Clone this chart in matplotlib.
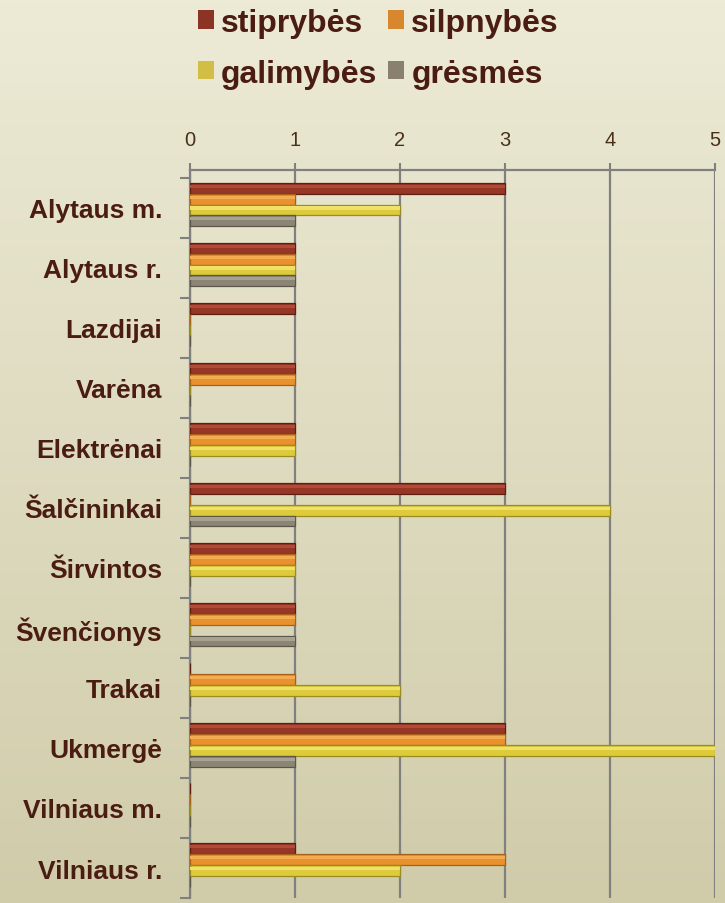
import numpy as np
import matplotlib
matplotlib.use("Agg")
import matplotlib.pyplot as plt
from matplotlib.patches import Patch

plt.rcParams['font.family'] = ['Liberation Sans', 'DejaVu Sans']

categories = ["Alytaus m.", "Alytaus r.", "Lazdijai", "Varėna", "Elektrėnai",
              "Šalčininkai", "Širvintos", "Švenčionys", "Trakai", "Ukmergė",
              "Vilniaus m.", "Vilniaus r."]
series = ["stiprybės", "silpnybės", "galimybės", "grėsmės"]
stiprybes = [3, 1, 1, 1, 1, 3, 1, 1, 0, 3, 0, 1]
silpnybes = [1, 1, 0, 1, 1, 0, 1, 1, 1, 3, 0, 3]
galimybes = [2, 1, 0, 0, 1, 4, 1, 0, 2, 5, 0, 2]
gresmes = [1, 1, 0, 0, 0, 1, 0, 1, 0, 1, 0, 0]

values = [stiprybes, silpnybes, galimybes, gresmes]
fills = ["#963626", "#E8912E", "#DDCB3C", "#8C8576"]
edges = ["#5E1E12", "#A8601A", "#9A8C20", "#5C5648"]
highlights = ["#B24A36", "#F4AC50", "#EEE068", "#A8A292"]
legend_colors = ["#8B3324", "#D8872E", "#D2BE44", "#8A8070"]
text_color = "#4A1C12"

fig = plt.figure(figsize=(7.25, 9.04), dpi=100)

# background gradient
bg = fig.add_axes([0, 0, 1, 1], zorder=-10)
top = np.array([237, 234, 214]) / 255
bot = np.array([208, 204, 170]) / 255
t = np.linspace(0, 1, 256)[:, None]
grad = top[None, :] * (1 - t) + bot[None, :] * t
bg.imshow(grad[:, None, :], aspect="auto", extent=[0, 1, 0, 1])
bg.axis("off")

ax = fig.add_axes([0.262, 0.0055, 0.724, 0.805])
ax.patch.set_alpha(0)

y = np.arange(len(categories))
h = 0.18
offsets = [-0.32, -0.14, 0.04, 0.22]
for vals, off, fc, ec, hc in zip(values, offsets, fills, edges, highlights):
    ax.barh(y + off, vals, height=h, color=fc, edgecolor=ec, linewidth=0.9, zorder=3)
    ax.barh(y + off - h * 0.18, vals, height=h * 0.3, color=hc,
            linewidth=0, zorder=4)

ax.set_xlim(0, 5)
ax.set_ylim(11.5, -0.62)
ax.xaxis.tick_top()
ax.set_xticks(range(6))
ax.tick_params(axis="x", length=5, width=1.5, color="#808080", pad=10,
               labelsize=14.5, labelcolor="#4A3018")
ax.grid(axis="x", color="#808080", linewidth=1.6, zorder=1)

ax.set_yticks(y)
ax.set_yticklabels(categories, fontsize=19, fontweight="bold", color=text_color)
ax.tick_params(axis="y", length=0, pad=20)
ax.set_yticks(np.arange(-0.5, 12, 1), minor=True)
ax.tick_params(axis="y", which="minor", length=7, width=1.5, color="#808080")

for side in ["right", "bottom"]:
    ax.spines[side].set_visible(False)
for side in ["left", "top"]:
    ax.spines[side].set_color("#808080")
    ax.spines[side].set_linewidth(1.6)

handles = [Patch(facecolor=c, edgecolor="none") for c in legend_colors]
order = [0, 2, 1, 3]
leg = fig.legend([handles[i] for i in order], [series[i] for i in order],
                 loc="upper center", bbox_to_anchor=(0.522, 1.022), ncol=2,
                 frameon=False, handlelength=0.5, handleheight=0.5,
                 handletextpad=0.22, columnspacing=0.35, labelspacing=0.65,
                 prop={"weight": "bold", "size": 23})
for txt in leg.get_texts():
    txt.set_color(text_color)

fig.savefig("out.png", dpi=100)
